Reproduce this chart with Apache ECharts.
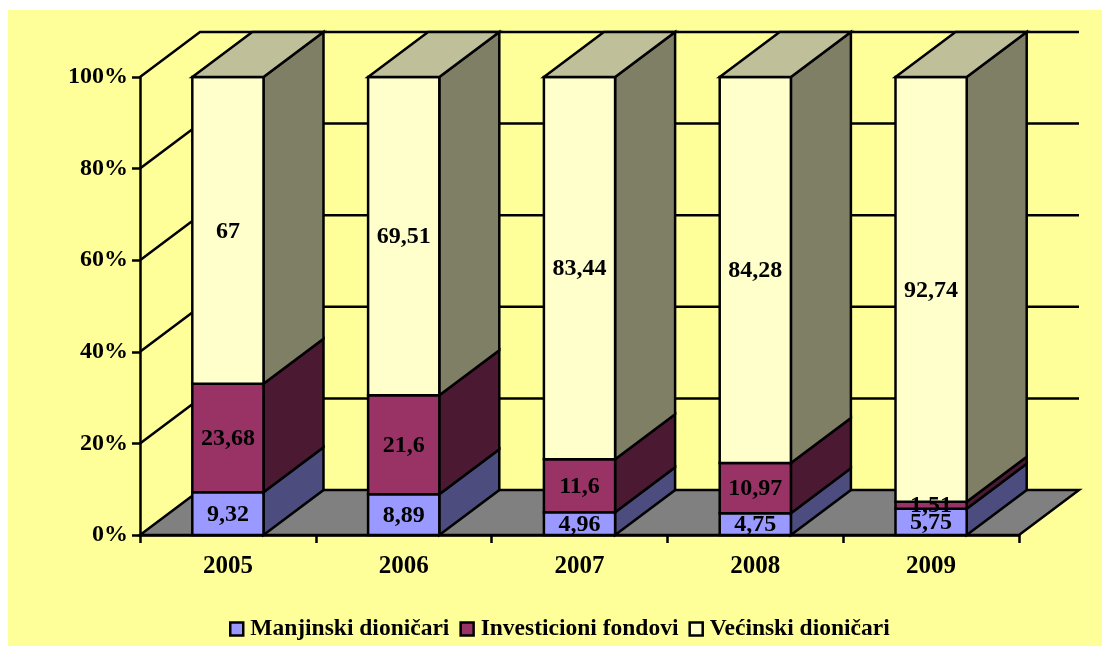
<!DOCTYPE html>
<html>
<head>
<meta charset="utf-8">
<title>Dioničari</title>
<script src="https://cdn.jsdelivr.net/npm/echarts@6/dist/echarts.min.js"></script>
<style>
  html, body { margin: 0; padding: 0; background: #fff; }
  #main { position: absolute; left: 8px; top: 10px; width: 1094px; height: 636px; background: #ffff99; }
</style>
</head>
<body>
<div id="main"></div>
<script>
var years = ['2005', '2006', '2007', '2008', '2009'];
var manjinski = [9.32, 8.89, 4.96, 4.75, 5.75];
var investicioni = [23.68, 21.6, 11.6, 10.97, 1.51];
var vecinski = [67, 69.51, 83.44, 84.28, 92.74];
var yTicks = [0, 20, 40, 60, 80, 100];

var seriesNames = ['Manjinski dioničari', 'Investicioni fondovi', 'Većinski dioničari'];
var seriesValues = [manjinski, investicioni, vecinski];
var frontColors = ['#9999ff', '#993366', '#ffffcc'];
var sideColors = ['#4c4c7f', '#4c1933', '#7f7f66'];
var topColor = '#bfbf99';
var floorColor = '#808080';

// pomak dubine 3D prikaza, u pikselima
var depthX = 60;
var depthY = 45;
var barRatio = 0.405;
var strokeW = 2.5;
var fontFamily = '"Liberation Serif", "Times New Roman", serif';

// pod i linije mreze na zidovima
function renderWalls(params, api) {
  var y = api.coord([0, api.value(1)])[1];
  var left = params.coordSys.x;
  var right = left + params.coordSys.width;
  if (api.value(1) === 0) {
    return {
      type: 'polygon',
      shape: { points: [[left, y], [left + depthX, y - depthY], [right + depthX, y - depthY], [right, y]] },
      style: { fill: floorColor, stroke: '#000', lineWidth: strokeW }
    };
  }
  return {
    type: 'polyline',
    shape: { points: [[left, y], [left + depthX, y - depthY], [right + depthX, y - depthY]] },
    style: { fill: null, stroke: '#000', lineWidth: strokeW }
  };
}

function makeBarRenderer(s) {
  return function (params, api) {
    var cat = api.value(0);
    var bottom = api.coord([cat, api.value(1)]);
    var top = api.coord([cat, api.value(2)]);
    var w = api.size([1, 0])[0] * barRatio;
    var x0 = bottom[0] - w / 2;
    var x1 = bottom[0] + w / 2;
    var children = [
      {
        type: 'polygon',
        shape: { points: [[x1, bottom[1]], [x1 + depthX, bottom[1] - depthY], [x1 + depthX, top[1] - depthY], [x1, top[1]]] },
        style: { fill: sideColors[s], stroke: '#000', lineWidth: strokeW }
      },
      {
        type: 'rect',
        shape: { x: x0, y: top[1], width: x1 - x0, height: bottom[1] - top[1] },
        style: { fill: frontColors[s], stroke: '#000', lineWidth: strokeW }
      }
    ];
    if (s === seriesValues.length - 1) {
      children.push({
        type: 'polygon',
        shape: { points: [[x0, top[1]], [x0 + depthX, top[1] - depthY], [x1 + depthX, top[1] - depthY], [x1, top[1]]] },
        style: { fill: topColor, stroke: '#000', lineWidth: strokeW }
      });
    }
    children.push({
      type: 'text',
      z2: 10,
      style: {
        x: bottom[0],
        y: (bottom[1] + top[1]) / 2 + 1,
        text: String(seriesValues[s][cat]).replace('.', ','),
        fill: '#000',
        font: 'bold 24px ' + fontFamily,
        align: 'center',
        verticalAlign: 'middle'
      }
    });
    return { type: 'group', children: children };
  };
}

var series = [{
  name: 'zidovi',
  type: 'custom',
  silent: true,
  clip: false,
  z: 1,
  encode: { x: 0, y: 1 },
  renderItem: renderWalls,
  data: yTicks.map(function (v) { return [0, v]; })
}];

seriesValues.forEach(function (values, s) {
  series.push({
    name: seriesNames[s],
    type: 'custom',
    silent: true,
    clip: false,
    z: 2,
    color: frontColors[s],
    encode: { x: 0, y: [1, 2] },
    renderItem: makeBarRenderer(s),
    data: values.map(function (v, i) {
      var start = 0;
      for (var k = 0; k < s; k++) start += seriesValues[k][i];
      return [i, start, start + v];
    })
  });
});

var myChart = echarts.init(document.getElementById('main'));
var option = {
  animation: false,
  textStyle: { fontFamily: fontFamily },
  legend: {
    data: seriesNames,
    left: 221,
    top: 607,
    padding: 0,
    icon: 'rect',
    itemWidth: 13,
    itemHeight: 13,
    itemGap: 10,
    selectedMode: false,
    itemStyle: { borderColor: '#000', borderWidth: 2.5 },
    textStyle: { fontFamily: fontFamily, fontWeight: 'bold', fontSize: 23.5, color: '#000', padding: [0, 0, 0, 2] }
  },
  grid: { left: 132, top: 67, right: 83, bottom: 111 },
  xAxis: {
    type: 'category',
    data: years,
    z: 5,
    axisLine: { lineStyle: { color: '#000', width: strokeW } },
    axisTick: { show: true, alignWithLabel: false, length: 8, lineStyle: { color: '#000', width: strokeW } },
    axisLabel: { color: '#000', fontFamily: fontFamily, fontWeight: 'bold', fontSize: 25, margin: 19, interval: 0 },
    splitLine: { show: false }
  },
  yAxis: {
    type: 'value',
    min: 0,
    max: 100,
    interval: 20,
    z: 5,
    axisLine: { show: true, lineStyle: { color: '#000', width: strokeW } },
    axisTick: { show: true, length: 8, lineStyle: { color: '#000', width: strokeW } },
    axisLabel: { color: '#000', fontFamily: fontFamily, fontWeight: 'bold', fontSize: 24, margin: 12, padding: [2, 0, 0, 0], formatter: '{value}%' },
    splitLine: { show: false }
  },
  series: series
};
myChart.setOption(option);
</script>
</body>
</html>
